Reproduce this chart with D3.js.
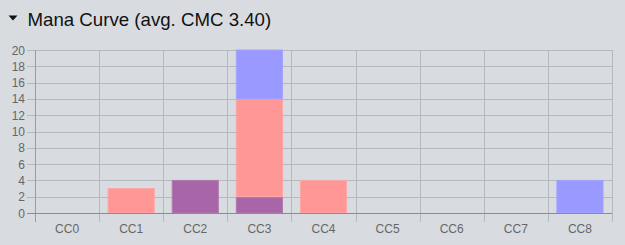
<!DOCTYPE html>
<html>
<head>
<meta charset="utf-8">
<script src="https://cdn.jsdelivr.net/npm/d3@7/dist/d3.min.js"></script>
<style>
  html, body { margin: 0; padding: 0; background: #d8dce0; }
  svg { display: block; font-family: "Liberation Sans", Arial, sans-serif; }
</style>
</head>
<body>
<svg id="chart" width="625" height="245"></svg>
<script>
// Mana curve: card counts per converted mana cost, stacked by colour group
const categories = ["CC0", "CC1", "CC2", "CC3", "CC4", "CC5", "CC6", "CC7", "CC8"];
const multiCounts = [0, 0, 4, 2, 0, 0, 0, 0, 0];
const redCounts   = [0, 3, 0, 12, 4, 0, 0, 0, 0];
const blueCounts  = [0, 0, 0, 6, 0, 0, 0, 0, 4];
const yTicks = [0, 2, 4, 6, 8, 10, 12, 14, 16, 18, 20];
const avgCmc = "3.40";

const seriesKeys = ["multi", "red", "blue"];
const seriesColors = { multi: "#a866a8", red: "#ff9797", blue: "#9999ff" };
const seriesStroke = { multi: "#b07cb0", red: "#ffa6a6", blue: "#a4a4ff" };

const rows = categories.map((c, i) => ({
  cat: c, multi: multiCounts[i], red: redCounts[i], blue: blueCounts[i]
}));

const svg = d3.select("#chart");
const margin = { left: 35, right: 13, top: 50, bottom: 32 };
const W = 625, H = 245;

// Title with collapse arrow
svg.append("path")
  .attr("d", "M8.5,15.5 L17.5,15.5 L13,20.5 Z")
  .attr("fill", "#111");
svg.append("text")
  .attr("x", 27.5).attr("y", 25.5)
  .attr("font-size", 18.67).attr("fill", "#111")
  .text(`Mana Curve (avg. CMC ${avgCmc})`);

const x = d3.scaleBand().domain(categories)
  .range([margin.left, W - margin.right]).paddingInner(0).paddingOuter(0);
const y = d3.scaleLinear().domain([0, 20]).range([H - margin.bottom, margin.top]);

const g = svg.append("g");

// Horizontal grid lines with left tick stubs
g.append("g").selectAll("line").data(yTicks).join("line")
  .attr("x1", margin.left - 8).attr("x2", W - margin.right)
  .attr("y1", d => Math.round(y(d)) + 0.5).attr("y2", d => Math.round(y(d)) + 0.5)
  .attr("stroke", d => d === 0 ? "#8a8d90" : "#b5b9bd").attr("stroke-width", 1);

// Vertical grid lines at band boundaries, running past the axis
const bounds = categories.map(c => x(c)).concat([x.range()[1]]);
g.append("g").selectAll("line").data(bounds).join("line")
  .attr("x1", d => Math.round(d) + 0.5).attr("x2", d => Math.round(d) + 0.5)
  .attr("y1", margin.top).attr("y2", H - margin.bottom + 9)
  .attr("stroke", (d, i) => i === 0 ? "#9a9da0" : "#b5b9bd");

// Y tick labels
g.append("g").selectAll("text").data(yTicks).join("text")
  .attr("x", margin.left - 10).attr("y", d => y(d) + 4.5)
  .attr("text-anchor", "end").attr("font-size", 12).attr("fill", "#666")
  .text(d => d);

// X tick labels
g.append("g").selectAll("text").data(categories).join("text")
  .attr("x", d => x(d) + x.bandwidth() / 2).attr("y", H - margin.bottom + 20)
  .attr("text-anchor", "middle").attr("font-size", 12).attr("fill", "#666")
  .text(d => d);

// Stacked bars
const stack = d3.stack().keys(seriesKeys)(rows);
const barPad = 0.28;
const bw = x.bandwidth() * (1 - barPad);
const layers = g.append("g").selectAll("g").data(stack).join("g")
  .attr("fill", d => seriesColors[d.key])
  .attr("stroke", d => seriesStroke[d.key]);
layers.selectAll("rect").data(d => d.filter(p => p[1] > p[0])).join("rect")
  .attr("x", d => x(d.data.cat) + (x.bandwidth() - bw) / 2)
  .attr("width", bw)
  .attr("y", d => y(d[1]))
  .attr("height", d => y(d[0]) - y(d[1]))
  .attr("stroke-width", 1);

// Redraw the zero axis line above the bars
g.append("line")
  .attr("x1", margin.left).attr("x2", W - margin.right)
  .attr("y1", Math.round(y(0)) + 0.5).attr("y2", Math.round(y(0)) + 0.5)
  .attr("stroke", "#8a8d90");
</script>
</body>
</html>
